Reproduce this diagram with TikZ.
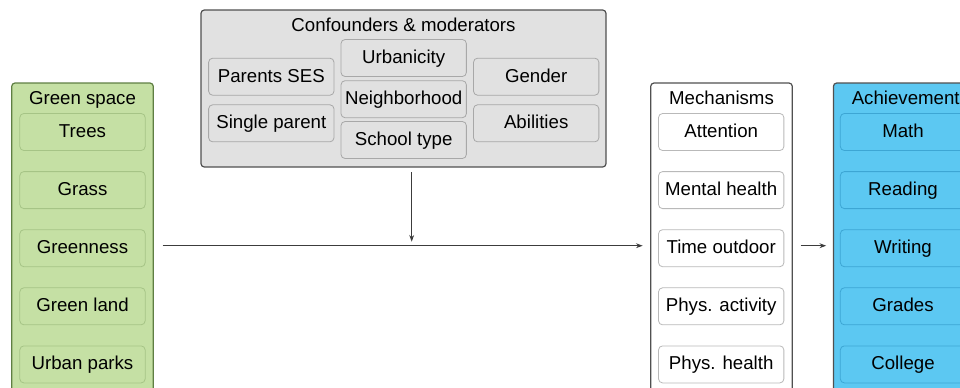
\documentclass[tikz,border=0pt]{standalone}
\usepackage{fontspec}
\setmainfont{Liberation Sans}
\usetikzlibrary{arrows.meta,calc}
\definecolor{GreenFill}{HTML}{C5E0A4}
\definecolor{GreenLine}{HTML}{5F7F43}
\definecolor{GreenEdge}{HTML}{A6C486}
\definecolor{GreyFill}{HTML}{E1E1E1}
\definecolor{GreyLine}{HTML}{505050}
\definecolor{GreyEdge}{HTML}{A8A8A8}
\definecolor{BlueFill}{HTML}{5CC8F2}
\definecolor{BlueEdge}{HTML}{3DA6D4}
\definecolor{ArrowGrey}{HTML}{3C3C3C}

\begin{document}
\begin{tikzpicture}[x=0.75pt,y=-0.75pt,
    every node/.style={align=center, font=\fontsize{14}{16}\selectfont, inner sep=0pt,
                       text height=10pt, text depth=2pt},
    groupbox/.style={draw=GreyLine, line width=0.9pt, rounded corners=2.5pt,
                     minimum width=106.2pt},
    itembox/.style={draw=GreyEdge, line width=0.6pt, rounded corners=3pt,
                    minimum width=94pt, minimum height=27.75pt},
    arr/.style={-{Stealth[length=5pt,width=3.6pt]}, ArrowGrey, line width=0.75pt}]
  \useasboundingbox (0,0) rectangle (960,387);
  \clip (0,0) rectangle (960,387);

  % containers
  \node[groupbox, draw=GreenLine, fill=GreenFill, minimum height=234pt] (green) at (82.5,239) {};
  \node[groupbox, draw=GreyLine, fill=GreyFill, minimum width=303.75pt,
        minimum height=117.75pt] (conf) at (403.5,88.5) {};
  \node[groupbox, fill=white, minimum height=234pt] (mech) at (721.5,239) {};
  \node[groupbox, fill=BlueFill, minimum height=234pt] (achv) at (904.2,239) {};

  % titles
  \node (greenT) at (82.5,99.5) {Green space};
  \node (confT) at (403.5,26) {Confounders \& moderators};
  \node (mechT) at (721.5,99.5) {Mechanisms};
  \node (achvT) at (905.7,99.5) {Achievement};

  % green space items
  \foreach \name/\txt [count=\i from 0] in {trees/Trees, grass/Grass, greenness/Greenness,
      land/Green land, parks/Urban parks} {
    \node[itembox, draw=GreenEdge, fill=GreenFill] (\name) at (82.5,132+58.1*\i) {\txt};
  }

  % mechanisms
  \foreach \name/\txt [count=\i from 0] in {attention/Attention, mental/Mental health,
      outdoor/Time outdoor, activity/Phys. activity, health/Phys. health} {
    \node[itembox, draw=GreyEdge!80, fill=white] (\name) at (721.2,132+58.1*\i) {\txt};
  }

  % achievement
  \foreach \name/\txt [count=\i from 0] in {math/Math, reading/Reading, writing/Writing,
      grades/Grades, college/College} {
    \node[itembox, draw=BlueEdge, fill=BlueFill] (\name) at (903,132+58.1*\i) {\txt};
  }

  % confounders and moderators
  \node[itembox, fill=GreyFill] (ses) at (271.3,76.7) {Parents SES};
  \node[itembox, fill=GreyFill] (single) at (271.3,123.3) {Single parent};
  \node[itembox, fill=GreyFill] (urban) at (403.7,58) {Urbanicity};
  \node[itembox, fill=GreyFill] (neigh) at (403.7,99.2) {Neighborhood};
  \node[itembox, fill=GreyFill] (school) at (403.7,140) {School type};
  \node[itembox, fill=GreyFill] (gender) at (536.2,76.7) {Gender};
  \node[itembox, fill=GreyFill] (abil) at (536.2,123.3) {Abilities};

  % arrows
  \coordinate (mid) at (411.7,245.7);
  \draw[arr] ($(green.east |- mid)+(8.7,0)$) -- ($(mech.west |- mid)+(-7.4,0)$);
  \draw[arr] ($(conf.south -| mid)+(0,4.7)$) -- ($(mid)+(0,-4)$);
  \draw[arr] ($(mech.east |- mid)+(7.7,0)$) -- ($(achv.west |- mid)+(-6.6,0)$);
\end{tikzpicture}
\end{document}
